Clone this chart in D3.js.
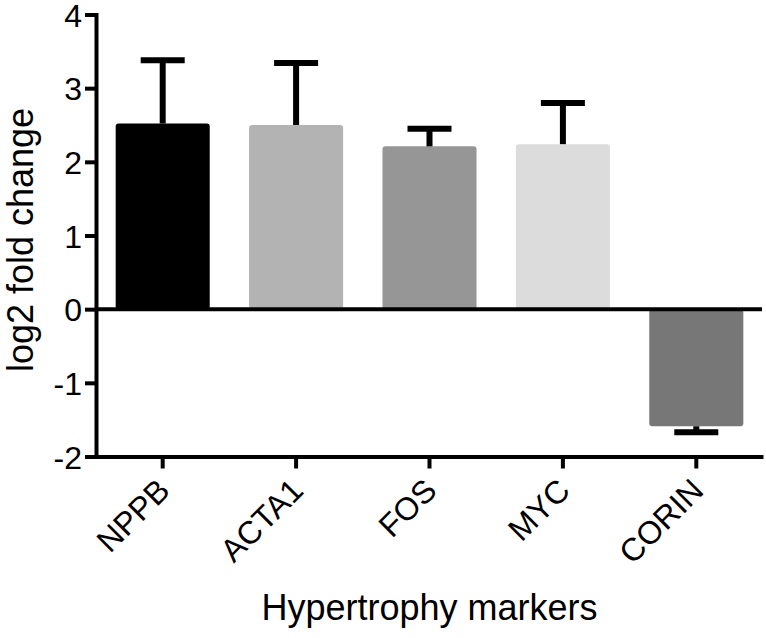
<!DOCTYPE html>
<html>
<head>
<meta charset="utf-8">
<script src="https://cdn.jsdelivr.net/npm/d3@7"></script>
<style>
  html, body { margin: 0; padding: 0; background: #fff; }
  svg { display: block; }
  text { font-family: "Liberation Sans", Arial, sans-serif; fill: #000; }
</style>
</head>
<body>
<svg id="chart" width="766" height="638"></svg>
<script>
// Data
const categories = ["NPPB", "ACTA1", "FOS", "MYC", "CORIN"];
const values = [2.52, 2.50, 2.21, 2.24, -1.59];
const errors = [0.86, 0.84, 0.24, 0.56, 0.08];
const colors = ["#000000", "#b3b3b3", "#969696", "#dcdcdc", "#777777"];
const yTicks = [-2, -1, 0, 1, 2, 3, 4];
const yTitle = "log2 fold change";
const xTitle = "Hypertrophy markers";

const svg = d3.select("#chart");
const mLeft = 96, mRight = 763, mTop = 14.5, mBottom = 456.5;

const x = d3.scaleBand().domain(categories).range([mLeft, mRight])
  .paddingInner(0.295).paddingOuter(0.1475);
const y = d3.scaleLinear().domain([-2, 4]).range([mBottom, mTop]);

const data = categories.map((c, i) => ({ c, v: values[i], e: errors[i], col: colors[i] }));

// Bars
svg.append("g").selectAll("rect").data(data).join("rect")
  .attr("x", d => x(d.c))
  .attr("width", x.bandwidth())
  .attr("y", d => Math.min(y(d.v), y(0)))
  .attr("height", d => Math.abs(y(d.v) - y(0)))
  .attr("rx", 3)
  .attr("fill", d => d.col);

// Error bars (one-sided, away from zero)
const capW = 44;
const eg = svg.append("g").attr("stroke", "#000").attr("stroke-width", 6);
eg.selectAll("line.stem").data(data).join("line").attr("class", "stem")
  .attr("x1", d => x(d.c) + x.bandwidth() / 2)
  .attr("x2", d => x(d.c) + x.bandwidth() / 2)
  .attr("y1", d => y(d.v))
  .attr("y2", d => y(d.v + Math.sign(d.v) * d.e));
eg.selectAll("line.cap").data(data).join("line").attr("class", "cap")
  .attr("x1", d => x(d.c) + x.bandwidth() / 2 - capW / 2)
  .attr("x2", d => x(d.c) + x.bandwidth() / 2 + capW / 2)
  .attr("y1", d => y(d.v + Math.sign(d.v) * d.e))
  .attr("y2", d => y(d.v + Math.sign(d.v) * d.e));

// Zero line
svg.append("line")
  .attr("x1", mLeft).attr("x2", mRight - 1)
  .attr("y1", y(0)).attr("y2", y(0))
  .attr("stroke", "#000").attr("stroke-width", 4);

// Y axis
const yAxis = svg.append("g").attr("transform", `translate(${mLeft},0)`)
  .call(d3.axisLeft(y).tickValues(yTicks).tickSize(11).tickSizeOuter(0).tickPadding(3)
    .tickFormat(d => String(d)));
yAxis.select(".domain").attr("stroke-width", 4).attr("stroke-linecap", "square");
yAxis.selectAll(".tick line").attr("stroke-width", 4);
yAxis.selectAll(".tick text").attr("font-size", 32).attr("dy", "0.36em")
  .style("font-family", "'Liberation Sans', Arial, sans-serif");

// X axis
const xAxis = svg.append("g").attr("transform", `translate(0,${mBottom})`)
  .call(d3.axisBottom(x).tickSize(12).tickSizeOuter(0));
xAxis.select(".domain").attr("stroke-width", 4);
xAxis.selectAll(".tick line").attr("stroke-width", 4);
xAxis.selectAll(".tick text")
  .attr("font-size", 32)
  .attr("text-anchor", "end")
  .attr("dy", null)
  .attr("y", null)
  .attr("transform", "translate(9,36) rotate(-45)")
  .style("font-family", "'Liberation Sans', Arial, sans-serif");

// Titles
svg.append("text")
  .attr("transform", `translate(33,240) rotate(-90)`)
  .attr("text-anchor", "middle")
  .attr("font-size", 36)
  .text(yTitle);

svg.append("text")
  .attr("x", (mLeft + mRight) / 2)
  .attr("y", 620)
  .attr("text-anchor", "middle")
  .attr("font-size", 36)
  .text(xTitle);
</script>
</body>
</html>
